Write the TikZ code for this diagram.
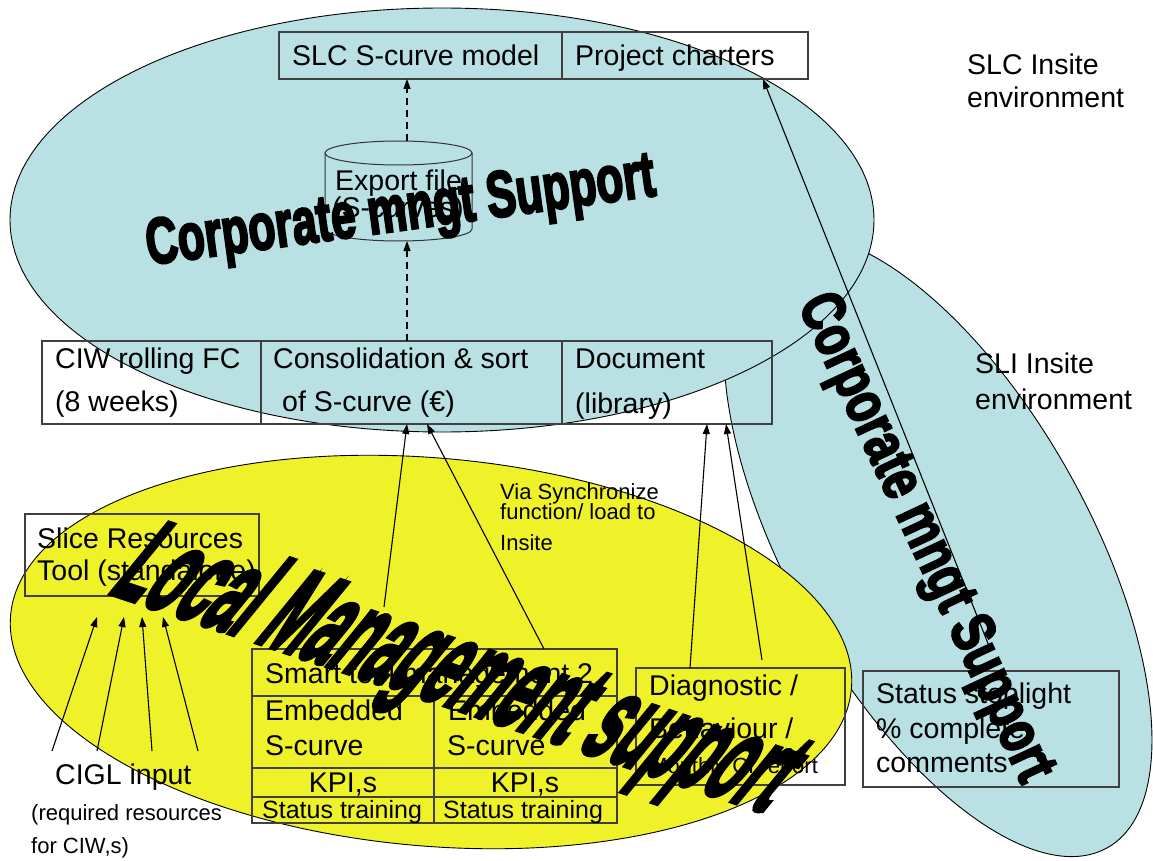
\documentclass[tikz,border=0pt]{standalone}
\usepackage{fontspec}
\setmainfont{Liberation Sans}
\newfontfamily\wafont[FakeBold=4]{Liberation Sans Bold}
\usetikzlibrary{arrows.meta,calc}
\definecolor{sliblue}{RGB}{185,224,227}
\definecolor{lmyellow}{RGB}{239,242,40}
\begin{document}
\begin{tikzpicture}[x=1pt,y=-1pt,
  box/.style={draw=black!75, line width=1.2pt, inner sep=0pt, outer sep=0pt, anchor=north west},
  txt/.style={anchor=base west, inner sep=0pt, font=\fontsize{28.5}{34}\selectfont},
  small/.style={anchor=base west, inner sep=0pt, font=\fontsize{22}{26}\selectfont},
  sttxt/.style={anchor=base west, inner sep=0pt, font=\fontsize{25}{30}\selectfont},
  arr/.style={-{Triangle[length=10pt,width=7pt]}, line width=1.1pt},
  dasharr/.style={arr, dash pattern=on 7pt off 5pt},
  envel/.style={draw=black, line width=0.9pt},
  wa/.style={anchor=base, inner sep=0pt, transform shape, text=black}
]
\fill[white] (0,0) rectangle (1153,861);
\useasboundingbox (0,0) rectangle (1153,861);

% environments
\draw[envel, fill=sliblue, rotate around={-60.7:(938,546)}] (938,546) ellipse [x radius=346, y radius=150];
\draw[envel, fill=sliblue] (442,220) ellipse [x radius=432, y radius=212];
\draw[envel, fill=lmyellow, rotate around={-5:(431,652)}] (431,652) ellipse [x radius=422, y radius=194];

% boxes
\node[box, minimum width=283pt, minimum height=47pt] (slc) at (279,32) {};
\node[box, minimum width=246pt, minimum height=47pt] (proj) at (562,32) {};
\node[box, minimum width=219pt, minimum height=83pt] (ciw) at (42,341) {};
\node[box, minimum width=301pt, minimum height=83pt] (cons) at (261,341) {};
\node[box, minimum width=210pt, minimum height=83pt] (doc) at (562,341) {};
\node[box, minimum width=234pt, minimum height=82pt] (slice) at (25,514) {};
\node[box, minimum width=365pt, minimum height=47pt] (smart) at (252,649) {};
\node[box, minimum width=182pt, minimum height=72pt] (emb1) at (252,696) {};
\node[box, minimum width=183pt, minimum height=72pt] (emb2) at (434,696) {};
\node[box, minimum width=182pt, minimum height=29pt] (kpi1) at (252,768) {};
\node[box, minimum width=183pt, minimum height=29pt] (kpi2) at (434,768) {};
\node[box, minimum width=182pt, minimum height=26pt] (st1) at (252,797) {};
\node[box, minimum width=183pt, minimum height=26pt] (st2) at (434,797) {};
\node[box, minimum width=209pt, minimum height=117pt] (diag) at (636,668) {};
\node[box, minimum width=256pt, minimum height=116pt] (status) at (863,671) {};

% export file cylinder
\node[inner sep=0pt, outer sep=0pt, minimum width=147pt, minimum height=100pt] (exp) at (398.5,191) {};
\draw[line width=1pt, draw=black!80] (325,153) -- (325,229) arc[start angle=180, end angle=0, x radius=73.5, y radius=12] -- (472,153);
\draw[line width=1pt, draw=black!80] (398.5,153) ellipse [x radius=73.5, y radius=12];

% texts
\node[txt] (tslc) at (292,66) {SLC S-curve model};
\node[txt] (tproj) at (575,66) {Project charters};
\node[txt] (tslcenv1) at (967,75) {SLC Insite};
\node[txt] (tslcenv2) at (967,108) {environment};
\node[txt] (texp1) at (335,190) {Export file};
\node[txt] (texp2) at (332,218) {(S-curves)};
\node[txt] (tciw1) at (55,368) {CIW rolling FC};
\node[txt] (tciw2) at (55,411) {(8 weeks)};
\node[txt] (tcons1) at (273,368) {Consolidation \& sort};
\node[txt] (tcons2) at (282,411) {of S-curve (€)};
\node[txt] (tdoc1) at (575,368) {Document};
\node[txt] (tdoc2) at (575,413) {(library)};
\node[txt] (tsli1) at (975,373) {SLI Insite};
\node[txt] (tsli2) at (975,409) {environment};
\node[small] (tvia1) at (500,499) {Via Synchronize};
\node[small] (tvia2) at (500,519) {function/ load to};
\node[small] (tvia3) at (500,550) {Insite};
\node[txt] (tslice1) at (37,548) {Slice Resources};
\node[txt] (tslice2) at (37,580) {Tool (standalone)};
\node[txt] (tcigl) at (55,784) {CIGL input};
\node[small] (treq1) at (31,820) {(required resources};
\node[small] (treq2) at (31,853) {for CIW,s)};
\node[txt] (tsmart) at (265,683) {Smart tool management 2};
\node[txt] (temb1a) at (265,720) {Embedded};
\node[txt] (temb1b) at (265,755) {S-curve};
\node[txt] (temb2a) at (448,720) {Embedded};
\node[txt] (temb2b) at (447,755) {S-curve};
\node[txt, anchor=base] (tkpi1) at (343,792) {KPI,s};
\node[txt, anchor=base] (tkpi2) at (525,792) {KPI,s};
\node[sttxt] (tst1) at (262,818) {Status training};
\node[sttxt] (tst2) at (443,818) {Status training};
\node[txt] (tdiag1) at (649,695) {Diagnostic /};
\node[txt] (tdiag2) at (649,738) {Behaviour /};
\node[small] (tdiag3) at (649,773) {Monthly CI report};
\node[txt] (tstat1) at (876,703) {Status stoplight};
\node[txt] (tstat2) at (876,738) {\% complete};
\node[txt] (tstat3) at (876,772) {comments};

% connectors
\draw[dasharr] ($(exp.north)+(8.5,0)$) -- ($(slc.south west)+(128,0)$);
\draw[dasharr] ($(cons.north west)+(146,0)$) -- ($(exp.south)+(8.5,0)$);
\coordinate (a1s) at (384,607);
\draw[arr] (a1s) -- ($(cons.south west)+(146,0)$);
\draw[arr] ($(smart.north west)+(292,0)$) -- ($(cons.south west)+(166,0)$);
\draw[arr] ($(diag.north west)+(54,0)$) -- ($(doc.south west)+(145,0)$);
\coordinate (a4s) at (762,660);
\draw[arr] (a4s) -- ($(doc.south west)+(164,0)$);
\coordinate (a5s) at (991,651);
\draw[arr] (a5s) -- ($(proj.south west)+(201,0)$);
\coordinate (c1s) at (52,751);
\coordinate (c2s) at (97,751);
\coordinate (c3s) at (152,751);
\coordinate (c4s) at (198,751);
\draw[arr] (c1s) -- ($(slice.south west)+(72,21)$);
\draw[arr] (c2s) -- ($(slice.south west)+(99,21)$);
\draw[arr] (c3s) -- ($(slice.south west)+(117,21)$);
\draw[arr] (c4s) -- ($(slice.south west)+(138,21)$);

% word art
\begin{scope}[shift={(403,230)}, rotate=7.8, xscale=0.68]
  \node[wa, font=\wafont\fontsize{65}{65}\selectfont] (wacorp) at (0,0) {Corporate mngt Support};
\end{scope}
\begin{scope}[shift={(910,545)}, rotate=-65, xscale=0.75]
  \node[wa, font=\wafont\fontsize{61}{61}\selectfont] (wacorp2) at (0,0) {Corporate mngt Support};
\end{scope}
\begin{scope}[shift={(435,702)}, rotate=-18.5, xslant=0.38, xscale=0.43]
  \node[wa, font=\wafont\fontsize{124}{124}\selectfont] (walocal) at (0,0) {Local Management support};
\end{scope}
\end{tikzpicture}
\end{document}
